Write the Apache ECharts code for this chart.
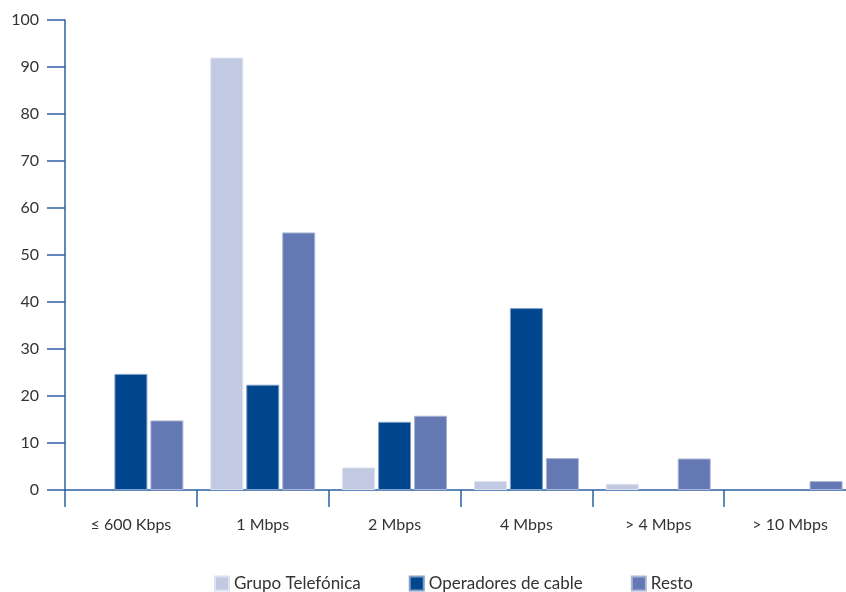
<!DOCTYPE html>
<html>
<head>
<meta charset="utf-8">
<script src="https://cdn.jsdelivr.net/npm/echarts@6/dist/echarts.min.js"></script>
<style>
  html, body { margin: 0; padding: 0; background: #fff; }
  #chart { width: 846px; height: 592px; }
</style>
</head>
<body>
<div id="chart"></div>
<script>
// Connection speed categories and the share (%) for each group of operators
// (null = no share in that category)
const categories = ['≤ 600 Kbps', '1 Mbps', '2 Mbps', '4 Mbps', '> 4 Mbps', '> 10 Mbps'];
const grupoTelefonica = [null, 92, 4.8, 1.9, 1.3, null];
const operadoresCable = [24.7, 22.4, 14.5, 38.7, null, null];
const resto = [14.8, 54.8, 15.8, 6.8, 6.7, 1.9];
const yTicks = { min: 0, max: 100, interval: 10 };

const axisColor = '#2c62a6';
const textColor = '#333333';
const fontFamily = 'Lato, "Open Sans", sans-serif';

const chart = echarts.init(document.getElementById('chart'));

function barSeries(name, data, color, border) {
  return {
    name: name,
    type: 'bar',
    data: data,
    barWidth: 33,
    barGap: '9%',
    itemStyle: { color: color, borderColor: border, borderWidth: 1 },
    emphasis: { disabled: true }
  };
}

chart.setOption({
  animation: false,
  grid: { left: 65, top: 20, right: -10, bottom: 102, outerBoundsMode: 'none', containLabel: false },
  legend: {
    left: 209,
    top: 570,
    itemWidth: 14,
    itemHeight: 14,
    itemGap: 48,
    icon: 'rect',
    textStyle: { color: textColor, fontSize: 17, fontFamily: fontFamily },
    data: ['Grupo Telefónica', 'Operadores de cable', 'Resto']
  },
  xAxis: {
    type: 'category',
    data: categories,
    axisLine: { lineStyle: { color: axisColor, width: 1.5 } },
    axisTick: { show: true, length: 17, lineStyle: { color: axisColor, width: 1.5 } },
    axisLabel: { color: textColor, fontSize: 16, fontFamily: fontFamily, margin: 27 }
  },
  yAxis: {
    type: 'value',
    min: yTicks.min,
    max: yTicks.max,
    interval: yTicks.interval,
    axisLine: { show: true, lineStyle: { color: axisColor, width: 1.5 } },
    axisTick: { show: true, length: 18, lineStyle: { color: axisColor, width: 1.5 } },
    splitLine: { show: false },
    axisLabel: { color: textColor, fontSize: 16, fontFamily: fontFamily, margin: 26 }
  },
  series: [
    barSeries('Grupo Telefónica', grupoTelefonica, '#c1c9e3', '#dde2f0'),
    barSeries('Operadores de cable', operadoresCable, '#00468e', '#7f9fc6'),
    barSeries('Resto', resto, '#6478b4', '#a9b5d6')
  ]
});
</script>
</body>
</html>
